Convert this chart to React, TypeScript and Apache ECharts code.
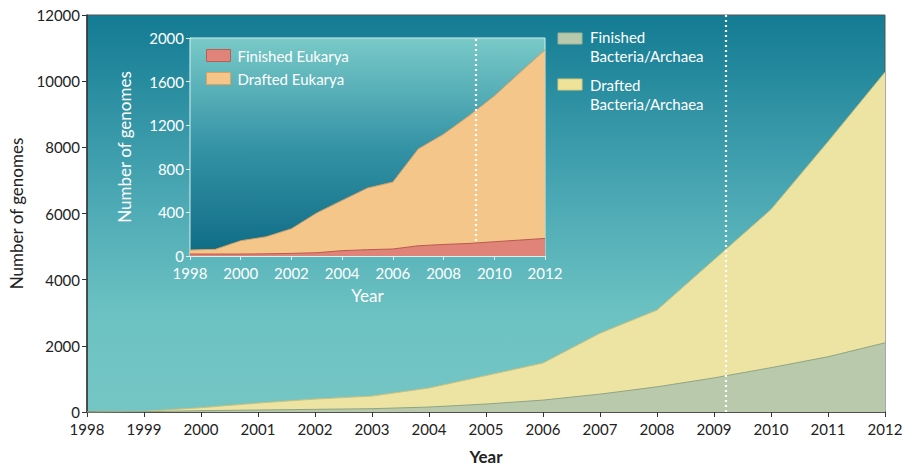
import React, { useEffect, useRef } from "react";
import * as echarts from "echarts";

const years = [1998, 1999, 2000, 2001, 2002, 2003, 2004, 2005, 2006, 2007, 2008, 2009, 2010, 2011, 2012];
const finishedBA = [0, 10, 40, 60, 80, 100, 150, 240, 360, 540, 760, 1030, 1340, 1670, 2090];
const draftedBA = [0, 10, 90, 210, 310, 380, 575, 860, 1120, 1840, 2320, 3570, 4780, 6500, 8180];
const finishedEuk = [18, 18, 18, 20, 24, 30, 49, 58, 64, 94, 106, 115, 131, 146, 161];
const draftedEuk = [37, 43, 122, 156, 226, 365, 461, 565, 614, 888, 1012, 1171, 1337, 1535, 1729];
const mainYTicks = [0, 2000, 4000, 6000, 8000, 10000, 12000];
const insetYTicks = [0, 400, 800, 1200, 1600, 2000];
const cutoffYear = 2009.2;
const insetCutoffYear = 2009.25;

const FONT = "Lato, 'Open Sans', sans-serif";

export default function App() {
  const ref = useRef<HTMLDivElement>(null);
  useEffect(() => {
    if (!ref.current) return;
    document.body.style.margin = "0";
    const chart = echarts.init(ref.current, undefined, { renderer: "svg" });
    const pair = (arr: number[]) => years.map((y, i) => [y, arr[i]]);
    // cumulative (stacked) tops, built from the read values
    const stackTop = (a: number[], b: number[]) => years.map((y, i) => [y, a[i] + b[i]]);
    const mainBg = new echarts.graphic.LinearGradient(0, 0, 0, 1, [
      { offset: 0, color: "#137b93" },
      { offset: 0.45, color: "#4aa7b3" },
      { offset: 0.75, color: "#6cc2c2" },
      { offset: 1, color: "#74c6c4" },
    ]);
    const insetBg = new echarts.graphic.LinearGradient(0, 0, 0, 1, [
      { offset: 0, color: "#79cac8" },
      { offset: 0.5, color: "#3593a6" },
      { offset: 1, color: "#0e6b85" },
    ]);
    const markLine = (x: number) => ({
      silent: true,
      symbol: "none",
      label: { show: false },
      lineStyle: { color: "#ffffff", type: [2, 3], width: 2.2 },
      data: [{ xAxis: x }],
    });
    chart.setOption({
      animation: false,
      textStyle: { fontFamily: FONT },
      grid: [
        { left: 87, top: 15, right: 17, bottom: 55, show: true, backgroundColor: mainBg, borderColor: "#555", borderWidth: 1, z: 0, containLabel: false, outerBoundsMode: "none" },
        { left: 190, top: 38, right: 357, bottom: 211, show: true, backgroundColor: insetBg, borderColor: "#d5eeee", borderWidth: 1, z: 1, containLabel: false, outerBoundsMode: "none" },
      ],
      xAxis: [
        {
          type: "value", gridIndex: 0, min: 1998, max: 2012, interval: 1,
          name: "Year", nameLocation: "middle", nameGap: 36,
          nameTextStyle: { color: "#222", fontSize: 17, fontWeight: "bold", fontFamily: FONT },
          axisLine: { show: true, lineStyle: { color: "#333", width: 1.5 } },
          axisTick: { show: true, length: 5, lineStyle: { color: "#333" } },
          axisLabel: { color: "#222", fontSize: 15, margin: 9, fontFamily: FONT, formatter: (v: number) => String(v) },
          splitLine: { show: false },
        },
        {
          type: "value", gridIndex: 1, min: 1998, max: 2012, interval: 2,
          name: "Year", nameLocation: "middle", nameGap: 31,
          nameTextStyle: { color: "#fff", fontSize: 17, fontFamily: FONT },
          axisLine: { show: true, lineStyle: { color: "#e3f3f3", width: 1.2 } },
          axisTick: { show: true, length: 4, lineStyle: { color: "#e3f3f3" } },
          axisLabel: { color: "#fff", fontSize: 15, margin: 9, fontFamily: FONT, formatter: (v: number) => String(v) },
          splitLine: { show: false },
        },
      ],
      yAxis: [
        {
          type: "value", gridIndex: 0, min: 0, max: 12000, interval: 2000,
          name: "Number of genomes", nameLocation: "middle", nameGap: 62,
          nameTextStyle: { color: "#222", fontSize: 17, fontFamily: FONT },
          axisLine: { show: true, lineStyle: { color: "#333", width: 1.5 } },
          axisTick: { show: true, length: 5, lineStyle: { color: "#333" } },
          axisLabel: { color: "#222", fontSize: 15, margin: 7, fontFamily: FONT,
            formatter: (v: number) => (mainYTicks.includes(v) ? String(v) : "") },
          splitLine: { show: false },
        },
        {
          type: "value", gridIndex: 1, min: 0, max: 2000, interval: 400,
          name: "Number of genomes", nameLocation: "middle", nameGap: 57,
          nameTextStyle: { color: "#fff", fontSize: 17, fontFamily: FONT },
          axisLine: { show: true, lineStyle: { color: "#e3f3f3", width: 1.2 } },
          axisTick: { show: true, length: 4, lineStyle: { color: "#e3f3f3" } },
          axisLabel: { color: "#fff", fontSize: 15, margin: 6, fontFamily: FONT,
            formatter: (v: number) => (insetYTicks.includes(v) ? String(v) : "") },
          splitLine: { show: false },
        },
      ],
      legend: {
        show: true,
        orient: "vertical",
        left: 206, top: 48,
        itemWidth: 24, itemHeight: 12, itemGap: 8,
        icon: "rect",
        padding: 0,
        textStyle: { color: "#fff", fontSize: 15, fontFamily: FONT, padding: [0, 0, 0, 2] },
        data: [
          { name: "Finished Eukarya", itemStyle: { color: "#e08379", borderColor: "#b95d55", borderWidth: 1 } },
          { name: "Drafted Eukarya", itemStyle: { color: "#f5c58a", borderColor: "#d9a264", borderWidth: 1 } },
        ],
      },
      graphic: [
        { type: "rect", shape: { x: 558, y: 33, width: 24, height: 11 }, style: { fill: "#b9c9ad", stroke: "#9fb394", lineWidth: 1 }, z: 10 },
        { type: "text", x: 590, y: 27, style: { text: "Finished\nBacteria/Archaea", fill: "#fff", fontSize: 15, fontFamily: FONT, lineHeight: 19 }, z: 10 },
        { type: "rect", shape: { x: 558, y: 79, width: 24, height: 11 }, style: { fill: "#efe39a", stroke: "#d6c97e", lineWidth: 1 }, z: 10 },
        { type: "text", x: 590, y: 75, style: { text: "Drafted\nBacteria/Archaea", fill: "#fff", fontSize: 15, fontFamily: FONT, lineHeight: 19 }, z: 10 },
      ],
      series: [
        {
          name: "Drafted Bacteria/Archaea", type: "line", xAxisIndex: 0, yAxisIndex: 0,
          data: stackTop(finishedBA, draftedBA), symbol: "none",
          lineStyle: { color: "#c9c07e", width: 1 },
          areaStyle: { color: "#ede3a2", opacity: 1 },
          z: 2,
          markLine: markLine(cutoffYear),
        },
        {
          name: "Finished Bacteria/Archaea", type: "line", xAxisIndex: 0, yAxisIndex: 0,
          data: pair(finishedBA), symbol: "none",
          lineStyle: { color: "#8fa583", width: 1 },
          areaStyle: { color: "#b8c9ac", opacity: 1 },
          z: 3,
        },
        {
          name: "Drafted Eukarya", type: "line", xAxisIndex: 1, yAxisIndex: 1,
          data: stackTop(finishedEuk, draftedEuk), symbol: "none",
          lineStyle: { color: "#d2a068", width: 1 },
          areaStyle: { color: "#f5c68a", opacity: 1 },
          z: 4,
          markLine: markLine(insetCutoffYear),
        },
        {
          name: "Finished Eukarya", type: "line", xAxisIndex: 1, yAxisIndex: 1,
          data: pair(finishedEuk), symbol: "none",
          lineStyle: { color: "#b85a52", width: 1 },
          areaStyle: { color: "#e08379", opacity: 1 },
          z: 5,
        },
      ],
    });
    return () => chart.dispose();
  }, []);
  return <div ref={ref} style={{ width: 902, height: 467, background: "#fff" }} />;
}
